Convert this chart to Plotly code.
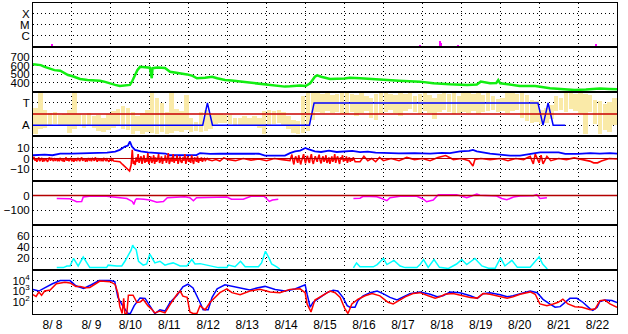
import pandas as pd
import plotly.graph_objects as go
from plotly.subplots import make_subplots

START = pd.Timestamp("2015-08-08")
N_DAYS = 15

# ---- X-ray flares (days since 8/8 00:00, flux W/m2)
XR_T = [0.49, 9.94, 10.45, 10.48, 10.92, 14.46]
XR_F = [1.6e-7, 1.4e-7, 3.0e-7, 2.0e-7, 1.4e-7, 1.6e-7]

# ---- Solar wind speed (km/s)
SW_T = [0.0, 0.1, 0.2, 0.3, 0.4, 0.5, 0.55, 0.7, 0.8, 0.9, 1.0, 1.1, 1.21, 1.4, 1.6, 1.72, 1.85, 2.0,
        2.11, 2.23, 2.35, 2.49, 2.55, 2.62, 2.68, 2.75, 2.85, 2.95, 3.0, 3.05, 3.07, 3.2, 3.39, 3.52,
        3.7, 3.96, 4.1, 4.21, 4.42, 4.6, 4.73, 4.93, 5.1, 5.32, 5.5, 5.75, 6.09, 6.3, 6.47, 6.6, 6.86,
        7.0, 7.12, 7.24, 7.3, 7.4, 7.63, 8.0, 8.14, 8.4, 8.66, 8.99, 9.4, 9.94, 10.28, 10.71, 11.15,
        11.4, 11.5, 11.74, 11.9, 11.95, 12.0, 12.5, 12.9, 13.28, 13.6, 13.92, 14.2, 14.56, 14.8, 15.0]
SW_V = [616, 612, 605, 585, 567, 552, 547, 540, 515, 490, 478, 465, 444, 432, 430, 424, 410, 385,
        375, 363, 365, 375, 420, 490, 545, 585, 578, 574, 575, 452, 570, 576, 572, 528,
        516, 497, 480, 452, 459, 470, 452, 432, 425, 413, 405, 394, 375, 365, 355, 358, 367,
        362, 394, 470, 486, 470, 444, 450, 459, 452, 444, 432, 424, 413, 394, 382, 375,
        380, 413, 394, 398, 432, 394, 363, 363, 337, 330, 317, 322, 333, 328, 325]

# ---- IMF sector (T = +1, A = -1) and phi scatter ranges (3-hour bins)
SEC_T = [0.0, 4.36, 4.48, 4.61, 7.10, 7.22, 12.97, 13.10, 13.23, 13.36, 13.67]
SEC_V = [-1, -1, 1, -1, -1, 1, 1, -1, 1, -1, -1]
YEL_LO = [-1.8, -1.3, -1.2, -1.0, -0.9, -1.0, -1.1, -1.7,
          -1.3, -1.1, -1.2, -1.0, -1.2, -1.5, -1.6, -1.4,
          -1.2, -1.0, -1.3, -1.4, -1.8, -1.5, -1.8, -1.6,
          -1.7, -1.8, -1.6, -1.8, -1.7, -1.5, -1.6, -1.4,
          -1.6, -1.5, -1.6, -1.5, -1.3, -0.9, -0.8, -0.8,
          -0.9, -1.0, -1.1, -1.0, -1.1, -1.0, -1.2, -1.8,
          -1.0, -0.9, -0.8, -1.1, -1.3, -1.7, -1.8, -1.7,
          -1.5, -0.5, 0.2, 0.1, 0.3, 0.1, 0.2, 0.0,
          0.0, 0.2, -0.2, 0.1, 0.3, -0.3, -0.5, 0.0,
          0.2, 0.4, 0.1, -0.2, 0.3, 0.5, 0.2, 0.0,
          0.3, 0.1, -0.4, 0.2, 0.4, 0.2, 0.0, 0.1,
          0.2, 0.1, 0.3, 0.0, 0.2, 0.3, 0.4, 0.2,
          0.3, 0.1, 0.3, 0.4, -0.3, -0.6, -0.8, -0.7,
          -0.9, -0.8, -0.4, 0.3, 0.4, 0.2, 0.5, 0.3,
          0.0, -1.8, 0.2, -0.9, -1.8, -1.4, -1.6, -1.0]
YEL_HI = [0.6, 1.9, 0.4, 0.1, 0.2, -0.1, 0.0, 0.4,
          1.9, 0.0, -0.1, 0.1, -0.2, -0.1, -0.3, 0.0,
          0.3, 0.5, 0.7, 0.6, 0.2, -0.2, 0.1, 0.4,
          1.9, 1.5, 1.0, 0.2, 1.9, 0.5, 0.3, 1.7,
          -0.3, -0.7, 0.2, 0.4, 0.0, 0.0, 0.0, -0.1,
          -0.1, -0.3, -0.3, -0.2, -0.3, -0.2, -0.3, 0.3,
          0.4, 0.3, 0.4, 0.2, -0.2, -0.5, -0.6, 1.6,
          1.9, 1.9, 1.9, 1.8, 1.9, 1.7, 1.8, 1.9,
          1.9, 1.8, 1.7, 1.9, 1.6, 1.5, 1.8, 1.9,
          1.9, 1.8, 1.7, 1.9, 1.8, 1.9, 1.6, 1.8,
          1.9, 1.7, 1.5, 1.8, 1.9, 1.8, 1.9, 1.6,
          1.9, 1.9, 1.8, 1.9, 1.7, 1.9, 1.6, 1.4,
          1.5, 1.9, 1.9, 1.8, 1.9, 1.7, 1.3, 1.2,
          0.4, 0.6, 0.8, 1.6, 1.5, 1.9, 1.9, 1.8,
          1.9, 1.8, 1.7, 1.3, 1.2, 0.9, 1.1, 1.5]

# ---- IMF Bt (blue), nT
BT_T = [0, 0.3, 0.5, 0.7, 1.0, 1.3, 1.5, 1.72, 1.9, 2.11, 2.23, 2.36, 2.44, 2.49, 2.54, 2.62, 2.77, 2.95,
        3.26, 3.4, 3.52, 4.0, 4.2, 4.29, 4.55, 4.8, 5.3, 5.8, 5.96, 6.47, 6.6, 6.73, 6.86, 7.0, 7.05,
        7.24, 7.4, 7.6, 7.8, 8.0, 8.2, 8.4, 8.6, 8.8, 9.0, 9.4, 9.8, 10.2, 10.5, 10.71, 10.97, 11.2,
        11.3, 11.4, 11.74, 12.0, 12.25, 12.51, 12.9, 13.02, 13.5, 13.67, 14.0, 14.31, 14.56, 14.82, 15]
BT_V = [3, 3.5, 3, 4.5, 4.5, 4.8, 5, 5, 5.5, 6.4, 8, 11, 12, 15.7, 11, 8, 6.6, 5.7,
        5, 4.6, 3, 3, 3.2, 5, 4.2, 4.5, 4.5, 4.4, 2.7, 2.7, 5, 6.6, 7.3, 9.7, 8.8,
        6.6, 6.0, 7.2, 6.0, 6.6, 7.0, 5.8, 6.3, 5.4, 5.0, 4.8, 5.0, 4.5, 5.2, 5, 6.6, 7.0,
        7.9, 6.6, 4.5, 3.6, 2.7, 2.7, 5, 5.7, 5.7, 4.2, 4.2, 5, 4.5, 5, 4.5]

# ---- IMF Bz (red), nT.  Noisy stretches are sampled every 0.025 day.
BZ_STEP = 0.025
BZ_SEG1_START = 0.0
BZ_SEG1 = [-1, 1.5, -2, 0, -3, -0.5, 1, -2.5, -1, 0.5, -3, -1, -2, 0, -1.5, -3, -0.5, 1, -2, 0.5,
           -1, -2.5, -0.5, -1.5, 0, -2, -1, -2.5, 0, -1, -2, -0.5, -3, -1, 1, -2, 0, -2.5, -1, 0.5,
           -2, -1, -3, 0, -1.5, -2, 0.5, -1, -2.5, -0.5, 1, -2, -1, 0, -3, -1, -2, 0.5, -1.5, -0.5,
           -2.5, 0, -1, -2, 1, -1, -3, -0.5, -1.5, 0, -2, -1, -2.5, 0, -1, -2, -0.5, -1.5, -3, -1,
           0, -2, -1, -2.4]
BZ_MID1_T = [2.15, 2.23, 2.3, 2.4, 2.48, 2.52]
BZ_MID1_V = [-3, -3, -5.5, -8.5, -11.5, -6]
BZ_SEG2_START = 2.55
BZ_SEG2 = [8, -5, -2, -6, 1, -3, 4, -4, -1, 2, -5, -2, 3, -4, 0, -3, 5, -5, -1, 2, -4, -2, 3, -5, 1,
           -3, -1, 4, -4, -2, 2, -5, 0, -2, 3, -4, -1, 5, -5, -2, 1, -3, 4, -4, 0, -2, 3, -5, -1, 2,
           -3, -4, 1, -2, 4, -5, -1, 2, -3, 0, -4, 3, -2, -5, 1, -1, -3, 2, -4, 0, -2, 1, -3, -1, 0,
           -2, -1, 0, -1]
BZ_MID2_T = [4.6, 4.7, 4.8, 4.9, 5.0, 5.2, 5.4, 5.6, 5.8, 6.0, 6.2, 6.4]
BZ_MID2_V = [-2, -1, -2.4, 0.6, -1, -2, 0, -1.5, -0.5, -2, 0, -1]
BZ_SEG3_START = 6.6
BZ_SEG3 = [-2, 1, 3.6, -2, -5.5, 0, 2, -1.5, -4, 3, -1, -5.5, -2, 1, 4, -1, -4.5, 0, 2.5, -2, -4, 1,
           4, -2, -5, -1, 2, -1, -3, 1, 3.5, -2, -4.5, 0, 2, -3, -1, 3, -4, -2, 1, -5, 0, 2, -3, -1,
           4, -4, 0, 2, -2, -5, 1, -1, 3, -3, 0, -2, 2, -4, -1, 1, -3, 0, -2, 1, -1, -3]
BZ_END_T = [8.4, 8.5, 8.6, 8.7, 8.8, 8.9, 9.0, 9.2, 9.4, 9.6, 9.8, 10.0, 10.2, 10.4, 10.6, 10.8, 11.0,
            11.2, 11.3, 11.35, 11.5, 11.74, 12.0, 12.2, 12.4, 12.6, 12.77, 12.85, 12.9, 13.0, 13.05,
            13.1, 13.2, 13.3, 13.5, 13.7, 13.9, 14.1, 14.3, 14.4, 14.5, 14.6, 14.7, 14.8, 15]
BZ_END_V = [-3, 2, -2, 0, -3, 1, -2, 0, -2, 1, -1, 0, -2, 1, 2.7, -1, 0, -2, -7, -1, 0, -1, 0, -2, 0,
            -1, 2, -5, 4, -4, 3, -5, 2, -2, 0, -1, 0.6, -1, -2.4, -4, -4, -2.4, -1, 0, -0.5]


def seg_days(start, vals):
    return [start + BZ_STEP * i for i in range(len(vals))]


BZ_T = (seg_days(BZ_SEG1_START, BZ_SEG1) + BZ_MID1_T + seg_days(BZ_SEG2_START, BZ_SEG2)
        + BZ_MID2_T + seg_days(BZ_SEG3_START, BZ_SEG3) + BZ_END_T)
BZ_V = BZ_SEG1 + BZ_MID1_V + BZ_SEG2 + BZ_MID2_V + BZ_SEG3 + BZ_END_V

# ---- Dst (nT); None = data gap
DST_T = [0.61, 0.8, 0.95, 1.12, 1.25, 1.29, 1.5, 1.89, 2.1, 2.3, 2.41, 2.55, 2.59, 2.63, 2.66, 2.85, 3.0,
         3.18, 3.35, 3.45, 3.69, 3.9, 4.03, 4.12, 4.2, 4.5, 4.72, 4.98, 5.1, 5.3, 5.4, 5.6, 5.92, 5.96,
         6.07, 6.15, 6.3, 7.2, 8.23, 8.4, 8.48, 8.83, 8.96, 9.09, 9.17, 9.43, 9.86, 10.03, 10.11, 10.28,
         10.41, 10.88, 11.0, 11.14, 11.25, 11.4, 11.48, 11.91, 12.04, 12.17, 12.34, 12.51, 12.85,
         12.94, 13.02, 13.2]
DST_V = [-20, -20, -22, -42, -40, -10, -3, -5, -10, -15, -20, -40, -60, -30, -22, -25, -30,
         -45, -40, -15, -10, -8, -15, -35, -15, -15, -12, -10, -25, -28, -25, -5, -3, -10,
         -40, -30, -25, None, -20, -18, -5, -8, -20, -35, -15, -5, -5, -25, -42, -30,
         6, 5, -3, -15, -5, 10, 2, -3, -20, -29, -10, -3, -2,
         6, -20, -15]

# ---- Geomagnetic activity index (cyan)
AI_T = [0.61, 0.78, 0.87, 0.95, 1.04, 1.16, 1.29, 1.40, 1.46, 1.89, 1.93, 2.15, 2.28, 2.36, 2.45, 2.52,
        2.56, 2.59, 2.65, 2.71, 2.83, 2.92, 3.0, 3.13, 3.26, 3.39, 3.48, 3.60, 3.78, 3.95, 4.08, 4.16,
        4.29, 4.46, 4.63, 4.76, 4.98, 5.02, 5.19, 5.33, 5.45, 5.79, 5.87, 5.97, 6.06, 6.13, 6.26, 6.34,
        7.2, 8.23, 8.31, 8.40, 8.74, 8.84, 9.0, 9.09, 9.27, 9.43, 9.56, 9.86, 9.94, 10.03, 10.15, 10.30,
        10.44, 10.67, 10.88, 11.01, 11.14, 11.35, 11.53, 11.70, 11.87, 12.01, 12.12, 12.30, 12.44,
        12.77, 12.87, 13.0, 13.09, 13.21]
AI_V = [3.5, 3.5, 6.5, 6.5, 20, 6.5, 22.5, 10, 3.5, 3.5, 8, 6.5, 6.5, 15, 27, 35,
        44, 40, 36, 15, 8, 10, 28, 12, 15, 8, 10, 12, 6.5, 6.5, 18, 10,
        10.7, 8, 6.5, 3.5, 3.5, 8, 5, 15, 5, 5, 12, 33, 21, 10, 5, 1,
        None, 3, 12, 5, 5, 9, 20, 9, 16.6, 6.5, 3.5, 3.5, 9, 18, 4, 18,
        4, 2, 10, 18, 9, 20, 6.5, 2.4, 2.4, 21, 6.5, 16.6, 4,
        4, 12, 23, 10, 1]

# ---- Electron flux (pfu), two satellites
EB_T = [0, 0.15, 0.3, 0.5, 0.7, 0.95, 1.1, 1.3, 1.5, 1.7, 1.98, 2.1, 2.18, 2.3, 2.44, 2.5, 2.6, 2.75, 2.88,
        3.0, 3.13, 3.26, 3.39, 3.52, 3.7, 3.85, 3.98, 4.11, 4.21, 4.29, 4.37, 4.5, 4.6, 4.73, 4.93, 5.06,
        5.32, 5.57, 5.75, 5.96, 6.22, 6.47, 6.73, 6.86, 6.99, 7.04, 7.12, 7.19, 7.3, 7.37, 7.55, 7.71,
        7.83, 7.96, 8.07, 8.14, 8.27, 8.35, 8.48, 8.66, 8.84, 8.99, 9.17, 9.35, 9.5, 9.68, 9.94, 10.2,
        10.38, 10.53, 10.71, 10.97, 11.23, 11.41, 11.56, 11.74, 12.0, 12.18, 12.33, 12.51, 12.77,
        12.95, 13.1, 13.28, 13.41, 13.54, 13.67, 13.79, 13.97, 14.13, 14.31, 14.38, 14.49, 14.56,
        14.69, 14.87, 15.0]
EB_V = [1450, 1000, 2000, 5000, 10000, 10000, 3200, 1800, 4000, 10000, 10000, 8000, 250, 40, 7, 7, 40, 220, 200,
        40, 7, 16, 12, 80, 400, 2500, 4500, 2000, 400, 80, 16, 16, 250, 1600, 4000, 3200,
        2000, 1250, 2000, 2800, 1400, 1000, 1600, 2500, 4000, 500, 28, 80, 160, 250, 700, 1200,
        1000, 250, 40, 28, 28, 125, 350, 700, 1000, 560, 250, 140, 250, 560, 800, 500,
        280, 350, 800, 700, 350, 200, 560, 700, 450, 280, 350, 560, 1000,
        700, 160, 56, 28, 32, 80, 200, 200, 80, 20, 14, 28, 100,
        140, 125, 80]
ER_T = [0, 0.08, 0.15, 0.22, 0.3, 0.44, 0.6, 0.82, 0.95, 1.1, 1.21, 1.34, 1.46, 1.6, 1.72, 1.98, 2.11, 2.18,
        2.23, 2.29, 2.33, 2.36, 2.41, 2.45, 2.49, 2.57, 2.67, 2.75, 2.83, 2.95, 3.06, 3.13, 3.26, 3.39,
        3.52, 3.7, 3.78, 3.85, 3.96, 4.03, 4.11, 4.21, 4.29, 4.42, 4.55, 4.68, 4.8, 4.98, 5.11, 5.32,
        5.57, 5.83, 6.09, 6.34, 6.6, 6.86, 6.99, 7.04, 7.14, 7.24, 7.42, 7.63, 7.76, 7.89, 8.01, 8.09,
        8.19, 8.35, 8.53, 8.71, 8.91, 9.12, 9.25, 9.38, 9.56, 9.76, 9.94, 10.15, 10.33, 10.45, 10.58,
        10.79, 11.05, 11.23, 11.41, 11.56, 11.74, 12.0, 12.18, 12.33, 12.51, 12.77, 12.9, 13.02, 13.2,
        13.36, 13.49, 13.61, 13.74, 13.92, 14.1, 14.31, 14.44, 14.56, 14.69, 14.82, 15.0]
ER_V = [460, 300, 800, 400, 1000, 1250, 5000, 7000, 6000, 2800, 2800, 2100, 2200, 5000, 9000, 8000, 4300, 630,
        32, 7, 200, 7, 7, 400, 400, 400, 80, 90, 160, 40, 16, 8, 12, 8,
        50, 490, 1000, 320, 250, 10, 7, 7, 40, 16, 83, 240, 700, 1600, 700, 440,
        1000, 1450, 800, 700, 1450, 1650, 700, 58, 10, 135, 350, 1000, 700, 240, 20, 7,
        58, 165, 350, 575, 350, 83, 58, 117, 280, 575, 700, 350, 210, 280, 490,
        575, 350, 240, 210, 575, 490, 280, 210, 280, 490, 830, 490, 58, 40,
        58, 83, 165, 58, 32, 28, 16, 20, 117, 135, 58, 28]


def tt(days):
    return [START + pd.Timedelta(days=d) for d in days]


FONT = "Liberation Sans, Arial, Helvetica, sans-serif"
DOT = "1px,3px"
RED = "#ff0000"
BLUE = "#0000ff"
DARKRED = "#b40000"
DAY_MS = 86400000

fig = make_subplots(rows=7, cols=1, shared_xaxes=True, vertical_spacing=0)

# Row 1: X-ray
fig.add_trace(go.Bar(x=tt(XR_T), y=XR_F, base=1e-9, width=0.06 * DAY_MS,
                     marker=dict(color="#ff00ff", line=dict(width=0))), row=1, col=1)
# Row 2: speed
fig.add_trace(go.Scatter(x=tt(SW_T), y=SW_V, mode="lines",
                         line=dict(color="#11ee11", width=2.5)), row=2, col=1)
# Row 3: sector
bin_days = [0.125 * k + 0.0625 for k in range(len(YEL_LO))]
fig.add_trace(go.Bar(x=tt(bin_days), y=[h - l for l, h in zip(YEL_LO, YEL_HI)], base=YEL_LO,
                     width=0.115 * DAY_MS, marker=dict(color="#faeaa8", line=dict(width=0))),
              row=3, col=1)
fig.add_trace(go.Scatter(x=tt(SEC_T), y=SEC_V, mode="lines",
                         line=dict(color=BLUE, width=1.5)), row=3, col=1)
# Row 4: IMF
fig.add_trace(go.Scatter(x=tt(BT_T), y=BT_V, mode="lines",
                         line=dict(color=BLUE, width=1.8)), row=4, col=1)
fig.add_trace(go.Scatter(x=tt(BZ_T), y=BZ_V, mode="lines",
                         line=dict(color=RED, width=1.6)), row=4, col=1)
# Row 5: Dst
fig.add_trace(go.Scatter(x=tt(DST_T), y=DST_V, mode="lines", connectgaps=False,
                         line=dict(color="#ff00ff", width=1.5)), row=5, col=1)
# Row 6: activity
fig.add_trace(go.Scatter(x=tt(AI_T), y=AI_V, mode="lines", connectgaps=False,
                         line=dict(color="#00ffff", width=1.5)), row=6, col=1)
# Row 7: electrons
fig.add_trace(go.Scatter(x=tt(EB_T), y=EB_V, mode="lines",
                         line=dict(color=BLUE, width=1.5)), row=7, col=1)
fig.add_trace(go.Scatter(x=tt(ER_T), y=ER_V, mode="lines",
                         line=dict(color=RED, width=1.5)), row=7, col=1)

# Reference lines
fig.add_hline(y=0, row=3, col=1, line=dict(color="#c80000", width=1.5))
fig.add_hline(y=0, row=4, col=1, line=dict(color=DARKRED, width=1))
fig.add_hline(y=0, row=5, col=1, line=dict(color=DARKRED, width=1.5))
fig.add_hline(y=4, row=7, col=1, line=dict(color=DARKRED, width=1.5, dash="7px,4px"))

xr = [START, START + pd.Timedelta(days=N_DAYS)]
for r in range(1, 8):
    fig.update_xaxes(row=r, col=1, type="date", range=xr, tick0=START, dtick=DAY_MS,
                     showgrid=True, gridcolor="black", griddash=DOT, gridwidth=1,
                     showline=True, mirror=True, linecolor="black", linewidth=1,
                     ticks="", zeroline=False, tickformat="%-m/%e", ticklabelmode="period",
                     tickfont=dict(family=FONT, size=12, color="black"),
                     showticklabels=(r == 7))

yax = dict(showgrid=True, gridcolor="black", griddash=DOT, gridwidth=1, showline=True, mirror=True,
           linecolor="black", linewidth=1, ticks="", zeroline=False,
           tickfont=dict(family=FONT, size=11.5, color="black"))
fig.update_yaxes(row=1, col=1, type="log", range=[-7.09, -3.0], tickvals=[1e-4, 1e-5, 1e-6],
                 ticktext=["X", "M", "C"], **yax)
fig.update_yaxes(row=2, col=1, range=[294, 811], tickvals=[400, 500, 600, 700], **yax)
fig.update_yaxes(row=3, col=1, range=[-2, 2], tickvals=[1, -1], ticktext=["T", "A"], **yax)
fig.update_yaxes(row=4, col=1, range=[-20.5, 20.5], tickvals=[-10, 0, 10], **yax)
fig.update_yaxes(row=5, col=1, range=[-200, 100], tickvals=[-100, 0], **yax)
fig.update_yaxes(row=6, col=1, range=[0, 80], tickvals=[20, 40, 60], **yax)
fig.update_yaxes(row=7, col=1, type="log", range=[0.8, 5.06], tickvals=[100, 1000, 10000],
                 ticktext=["10<sup>2</sup>", "10<sup>3</sup>", "10<sup>4</sup>"], **yax)

fig.update_layout(width=628, height=334, margin=dict(l=33, r=11, t=2, b=17),
                  paper_bgcolor="white", plot_bgcolor="white", showlegend=False,
                  bargap=0, barmode="overlay")

fig.write_html("out.html")
